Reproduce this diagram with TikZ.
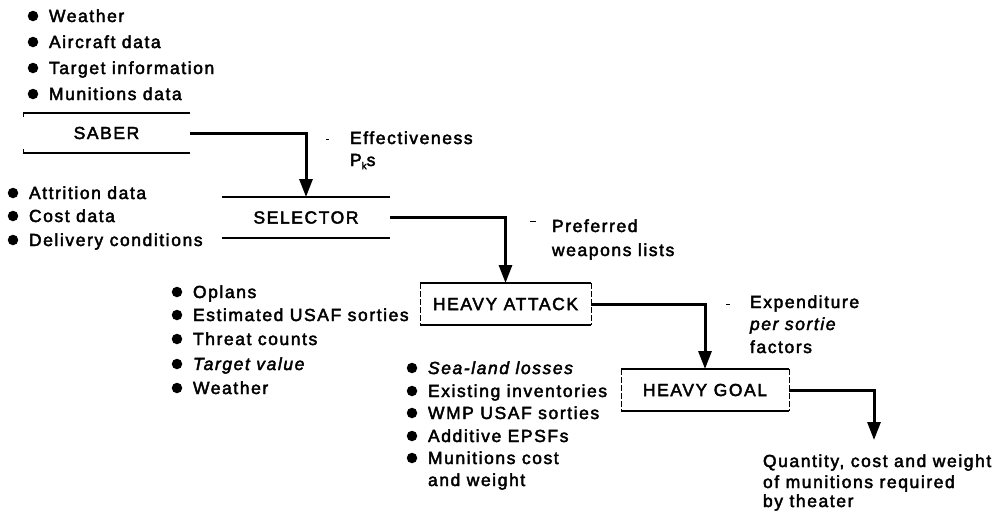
\documentclass[tikz,border=0pt]{standalone}
\usepackage{fontspec}
\setmainfont{Liberation Sans}[LetterSpace=9,FakeBold=2.5]
\usetikzlibrary{arrows.meta}

\tikzset{
  lbl/.style={font=\fontsize{17.5}{20}\selectfont, inner sep=0pt, outer sep=0pt, anchor=base west},
  dot/.style={circle, fill=black, inner sep=0pt, outer sep=0pt, minimum size=10.5pt},
  prog/.style={font=\fontsize{17.5}{20}\selectfont, inner sep=0pt, outer sep=0pt},
  rule/.style={line width=1.2pt},
  side/.style={line width=0.8pt, dash pattern=on 6pt off 2pt},
  flow/.style={line width=3pt, -{Triangle[length=18pt,width=13pt]}},
  stray/.style={line width=1pt},
}

% bulleted input item: name, text x, line centre y, text
\newcommand\bul[4]{%
  \node[dot] (#1-dot) at ({#2-16},{#3}) {};
  \node[lbl] (#1) at ({#2},{#3+6}) {#4};
}
% plain text line: name, x, line centre y, text
\newcommand\txt[4]{%
  \node[lbl] (#1) at ({#2},{#3+6}) {#4};
}

\begin{document}
\begin{tikzpicture}[x=1pt,y=-1pt]
\useasboundingbox (0,0) rectangle (1003,512);

% ---- SABER inputs
\bul{sw}{49}{16}{Weather}
\bul{sa}{49}{42}{Aircraft data}
\bul{st}{49}{68}{Target information}
\bul{sm}{49}{94}{Munitions data}

% ---- SABER
\node[prog, minimum width=167pt, minimum height=40pt] (saber) at (106.5,133) {SABER};
\draw[rule] (saber.north west) -- (saber.north east);
\draw[rule] (saber.south west) -- (saber.south east);
\draw[stray] (saber.north west) -- ++(0,4);
\draw[stray] (saber.south west) -- ++(0,-4);

% ---- SELECTOR inputs
\bul{ca}{29}{193}{Attrition data}
\bul{cc}{29}{216}{Cost data}
\bul{cd}{29}{240}{Delivery conditions}

% ---- SELECTOR
\node[prog, minimum width=168pt, minimum height=41pt] (selector) at (306,217.5) {SELECTOR};
\draw[rule] (selector.north west) -- (selector.north east);
\draw[rule] (selector.south west) -- (selector.south east);

\txt{eff}{350}{138}{Effectiveness}
\txt{pks}{350}{160}{P\raisebox{-0.35ex}{\fontsize{10}{10}\selectfont k}s}
\draw[stray] (326,139) -- (329,139);

\txt{pref}{552}{226}{Preferred}
\txt{wpn}{552}{250}{weapons lists}
\draw[stray] (530,221) -- (536,221);

% ---- HEAVY ATTACK inputs
\bul{ao}{193}{292}{Oplans}
\bul{ae}{193}{315}{Estimated USAF sorties}
\bul{at}{193}{339}{Threat counts}
\bul{av}{193}{364}{\itshape Target value}
\bul{aw}{193}{388}{Weather}

% ---- HEAVY ATTACK
\node[prog, minimum width=171pt, minimum height=42pt] (attack) at (505.5,304) {HEAVY ATTACK};
\draw[rule] (attack.north west) -- (attack.north east);
\draw[rule] (attack.south west) -- (attack.south east);
\draw[side] (attack.north west) -- (attack.south west);
\draw[side] (attack.north east) -- (attack.south east);

\txt{exp}{750}{302}{Expenditure}
\txt{per}{750}{324}{\itshape per sortie}
\txt{fac}{750}{347}{factors}
\draw[stray] (726,304) -- (730,304);

% ---- HEAVY GOAL inputs
\bul{gs}{428}{368}{\itshape Sea-land losses}
\bul{ge}{428}{391}{Existing inventories}
\bul{gw}{428}{413}{WMP USAF sorties}
\bul{ga}{428}{436}{Additive EPSFs}
\bul{gm}{428}{458}{Munitions cost}
\txt{gm2}{428}{480}{and weight}

% ---- HEAVY GOAL
\node[prog, minimum width=168pt, minimum height=42pt] (goal) at (705,390) {HEAVY GOAL};
\draw[rule] (goal.north west) -- (goal.north east);
\draw[rule] (goal.south west) -- (goal.south east);
\draw[side] (goal.north west) -- (goal.south west);
\draw[side] (goal.north east) -- (goal.south east);

% ---- result
\coordinate (result) at (874,440);
\txt{r1}{763}{461}{Quantity, cost and weight}
\txt{r2}{763}{482}{of munitions required}
\txt{r3}{763}{501}{by theater}

% ---- flow between the models
\draw[flow] (saber.east) -| (selector.north);
\draw[flow] (selector.east) -| (attack.north);
\draw[flow] (attack.east) -| (goal.north);
\draw[flow] (goal.east) -| (result);
\end{tikzpicture}
\end{document}
